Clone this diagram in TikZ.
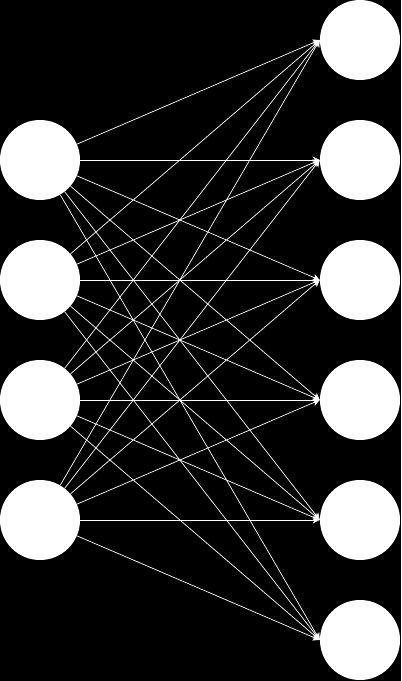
\documentclass[tikz,border=0pt]{standalone}
\usepackage{tikz}
\usetikzlibrary{arrows.meta}

\begin{document}
\begin{tikzpicture}[x=0.025cm,y=-0.025cm,
  neuron/.style={circle,fill=white,draw=none,minimum size=2cm,inner sep=0pt},
  link/.style={white,line width=0.5pt,-{Stealth[length=5pt,width=5pt]}}]
\fill[black] (0,0) rectangle (401,681);
\useasboundingbox (0,0) rectangle (401,681);
\node (IN1) [neuron] at (40,160) {};
\node (IN2) [neuron] at (40,280) {};
\node (IN3) [neuron] at (40,400) {};
\node (IN4) [neuron] at (40,520) {};
\node (OUT1) [neuron] at (360,40) {};
\node (OUT2) [neuron] at (360,160) {};
\node (OUT3) [neuron] at (360,280) {};
\node (OUT4) [neuron] at (360,400) {};
\node (OUT5) [neuron] at (360,520) {};
\node (OUT6) [neuron] at (360,640) {};
\draw [link] (IN1) to (OUT1.west);
\draw [link] (IN1) to (OUT2.west);
\draw [link] (IN1) to (OUT3.west);
\draw [link] (IN1) to (OUT4.west);
\draw [link] (IN1) to (OUT5.west);
\draw [link] (IN1) to (OUT6.west);
\draw [link] (IN2) to (OUT1.west);
\draw [link] (IN2) to (OUT2.west);
\draw [link] (IN2) to (OUT3.west);
\draw [link] (IN2) to (OUT4.west);
\draw [link] (IN2) to (OUT5.west);
\draw [link] (IN2) to (OUT6.west);
\draw [link] (IN3) to (OUT1.west);
\draw [link] (IN3) to (OUT2.west);
\draw [link] (IN3) to (OUT3.west);
\draw [link] (IN3) to (OUT4.west);
\draw [link] (IN3) to (OUT5.west);
\draw [link] (IN3) to (OUT6.west);
\draw [link] (IN4) to (OUT1.west);
\draw [link] (IN4) to (OUT2.west);
\draw [link] (IN4) to (OUT3.west);
\draw [link] (IN4) to (OUT4.west);
\draw [link] (IN4) to (OUT5.west);
\draw [link] (IN4) to (OUT6.west);
\end{tikzpicture}
\end{document}
